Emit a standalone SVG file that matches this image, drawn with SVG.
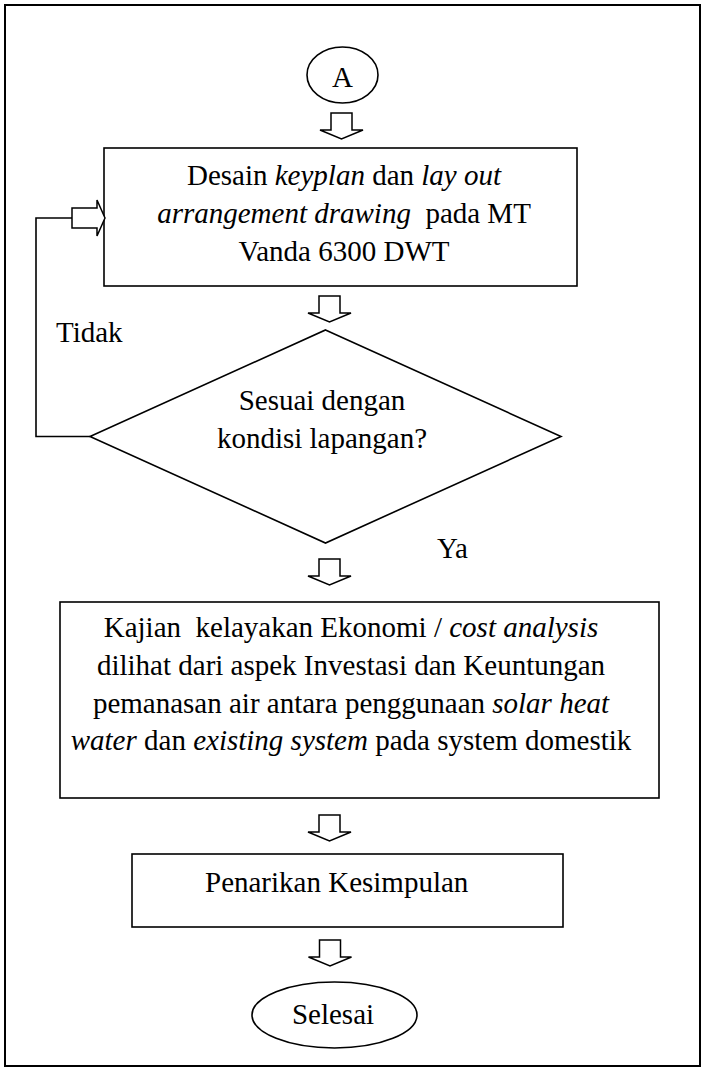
<svg xmlns="http://www.w3.org/2000/svg" width="702" height="1071" viewBox="0 0 702 1071">
  <defs>
    <style>
      .shape { fill: #fff; stroke: #000; stroke-width: 1.6; }
      .line { fill: none; stroke: #000; stroke-width: 1.6; }
      .arrow { fill: #fff; stroke: #000; stroke-width: 1.5; stroke-linejoin: miter; }
      text { font-family: "Liberation Serif", "Times New Roman", serif; font-size: 29px; fill: #000; white-space: pre; }
      .c { text-anchor: middle; }
      .i { font-style: italic; }
    </style>
    <!-- hollow block arrow pointing down, origin at the top-centre of its shaft -->
    <path id="blockDown" d="M -10.5 0 H 10.5 V 17 H 21.5 L 0 26 L -21.5 17 H -10.5 Z"/>
  </defs>

  <rect width="702" height="1071" fill="#fff"/>
  <!-- page frame -->
  <rect id="frame" x="5" y="5" width="695" height="1061" fill="none" stroke="#000" stroke-width="2"/>

  <g id="start-A">
    <ellipse class="shape" cx="342.5" cy="75" rx="35.5" ry="28"/>
    <text class="c" x="342.5" y="87">A</text>
  </g>

  <g id="design-keyplan">
    <rect class="shape" x="104" y="148" width="473" height="138"/>
    <text class="c" x="344" y="185" xml:space="preserve">Desain <tspan class="i">keyplan</tspan> dan <tspan class="i">lay out</tspan></text>
    <text class="c" x="344" y="223" xml:space="preserve"><tspan class="i">arrangement drawing</tspan>  pada MT</text>
    <text class="c" x="344" y="261">Vanda 6300 DWT</text>
  </g>

  <g id="check-site">
    <polygon class="shape" points="325.5,330 561,436.5 325.5,543 90,436.5"/>
    <text class="c" x="322" y="410">Sesuai dengan</text>
    <text class="c" x="322" y="448">kondisi lapangan?</text>
  </g>

  <g id="cost-analysis">
    <rect class="shape" x="60" y="602" width="599" height="196"/>
    <text class="c" x="351" y="637" xml:space="preserve">Kajian  kelayakan Ekonomi / <tspan class="i">cost analysis</tspan></text>
    <text class="c" x="351" y="675">dilihat dari aspek Investasi dan Keuntungan</text>
    <text class="c" x="351" y="713" xml:space="preserve">pemanasan air antara penggunaan <tspan class="i">solar heat</tspan></text>
    <text class="c" x="351" y="750" xml:space="preserve"><tspan class="i">water</tspan> dan <tspan class="i">existing system</tspan> pada system domestik</text>
  </g>

  <g id="conclusion">
    <rect class="shape" x="132" y="854" width="431" height="73"/>
    <text x="205" y="892">Penarikan Kesimpulan</text>
  </g>

  <g id="end-selesai">
    <ellipse class="shape" cx="334.5" cy="1015" rx="82.5" ry="33"/>
    <text class="c" x="333" y="1024">Selesai</text>
  </g>

  <g id="connectors">
    <use href="#blockDown" class="arrow" x="341.5" y="113"/>
    <use href="#blockDown" class="arrow" x="329.5" y="296"/>
    <use href="#blockDown" class="arrow" x="329.5" y="559"/>
    <use href="#blockDown" class="arrow" x="329.5" y="815"/>
    <use href="#blockDown" class="arrow" x="330" y="940"/>
    <!-- "Tidak" loop back to the design step -->
    <polyline class="line" points="90,436.5 36,436.5 36,218 72,218"/>
    <path class="arrow" d="M 72 208 H 97 V 200 L 105 218 L 97 236 V 228 H 72 Z"/>
    <text x="56" y="342">Tidak</text>
    <text x="437" y="558">Ya</text>
  </g>
</svg>
